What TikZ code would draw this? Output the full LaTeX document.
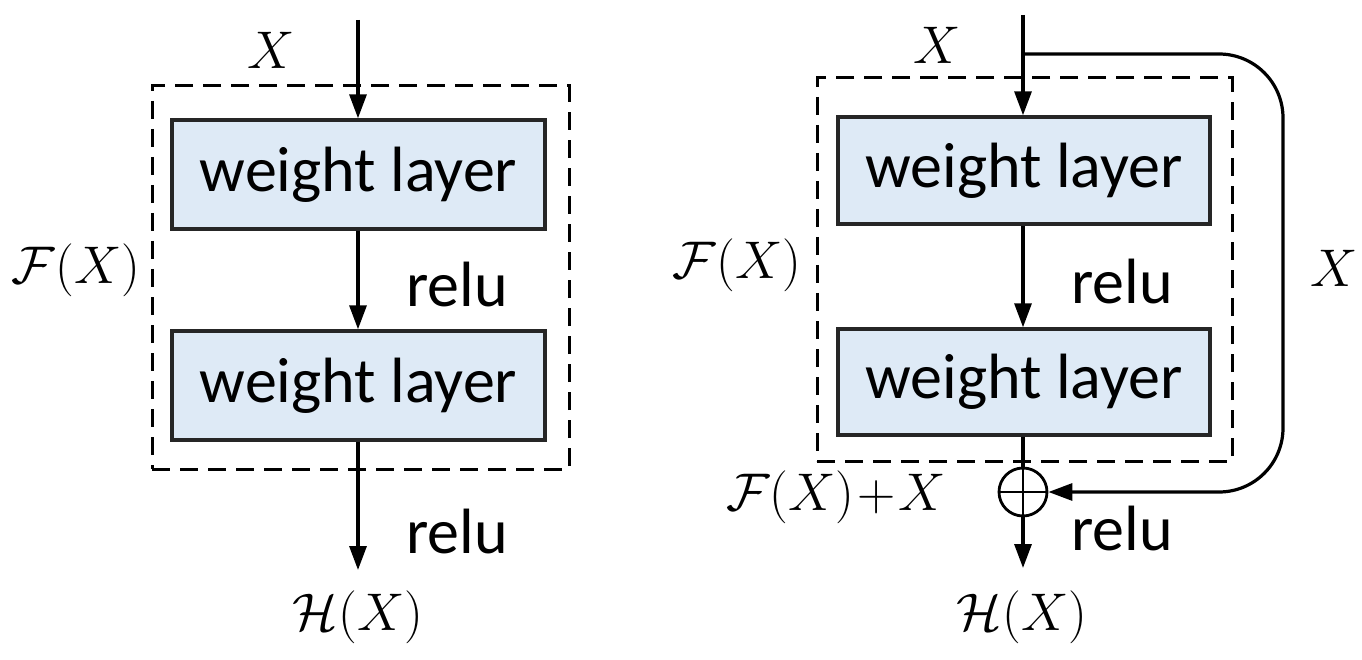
\RequirePackage{fix-cm}
\documentclass[tikz,border=0pt]{standalone}
\usepackage{fontspec}
\newfontfamily\calibri{Carlito}
\usetikzlibrary{arrows.meta}
\definecolor{boxblue}{HTML}{DEEAF6}
\newcommand\wfont{\calibri\fontsize{64}{70}\selectfont}
\newcommand\mfont{\fontsize{53}{60}\selectfont}
\begin{document}
\begin{tikzpicture}[x=1pt,y=-1pt,
  wbox/.style={draw=black!85, line width=3.4pt, fill=boxblue, inner sep=0pt, font=\wfont},
  lab/.style={font=\mfont, inner sep=0pt},
  wlab/.style={font=\wfont, inner sep=0pt},
  dashbox/.style={draw, line width=3pt, dash pattern=on 18pt off 10pt},
  arr/.style={line width=3.2pt, -{Triangle[width=17pt,length=24pt]}},
  ln/.style={line width=3.2pt}]
\useasboundingbox (0,0) rectangle (1362,660);

% ---------- left: plain block ----------
\node[dashbox, minimum width=417pt, minimum height=383pt, inner sep=0pt] (Ld) at (360.5,277.5) {};
\node[wbox, minimum width=373pt, minimum height=109pt] (L1) at (358.5,174.5) {\raisebox{-4pt}{weight layer}};
\node[wbox, minimum width=373pt, minimum height=109pt] (L2) at (358.5,385.5) {\raisebox{-4pt}{weight layer}};
\coordinate (Lin) at (358,20);
\coordinate (Lout) at (358,570);
\node[lab] (LX) at (271,50) {$X$};
\node[lab] (LF) at (76,270) {$\mathcal{F}(X)$};
\node[wlab] (Lr1) at (457,285) {relu};
\node[wlab] (Lr2) at (457,532) {relu};
\node[lab] (LH) at (358,617) {$\mathcal{H}(X)$};
\draw[arr] (Lin) -- (Lin |- L1.north);
\draw[arr] (Lin |- L1.south) -- (Lin |- L2.north);
\draw[arr] (Lin |- L2.south) -- (Lout);

% ---------- right: residual block ----------
\node[dashbox, minimum width=415pt, minimum height=383pt, inner sep=0pt] (Rd) at (1024.5,269.5) {};
\node[wbox, minimum width=372pt, minimum height=107pt] (R1) at (1024,170.5) {\raisebox{-4pt}{weight layer}};
\node[wbox, minimum width=372pt, minimum height=106pt] (R2) at (1024,382) {\raisebox{-4pt}{weight layer}};
\coordinate (Rin) at (1023,15);
\coordinate (Rbr) at (1023,54);
\coordinate (Rout) at (1023,568);
\node[draw, circle, line width=2.8pt, minimum size=48pt, inner sep=0pt] (S) at (1023,492) {};
\draw[line width=2.8pt] (S.north) -- (S.south) (S.west) -- (S.east);
\node[lab] (RX) at (937,45) {$X$};
\node[lab] (RF) at (737,265) {$\mathcal{F}(X)$};
\node[lab] (RX2) at (1334,268) {$X$};
\node[lab] (RFX) at (836,497) {$\mathcal{F}(X)\!+\!X$};
\node[wlab] (Rr1) at (1122,282) {relu};
\node[wlab] (Rr2) at (1122,529) {relu};
\node[lab] (RH) at (1022,617) {$\mathcal{H}(X)$};
\draw[arr] (Rin) -- (Rin |- R1.north);
\draw[arr] (Rin |- R1.south) -- (Rin |- R2.north);
\draw[ln] (Rin |- R2.south) -- (S.north);
\draw[arr] (S.south) -- (Rout);
\draw[arr, rounded corners=64pt] (Rbr) -- (1283,54) -- (1283,492) -- (S.east);
\end{tikzpicture}
\end{document}
